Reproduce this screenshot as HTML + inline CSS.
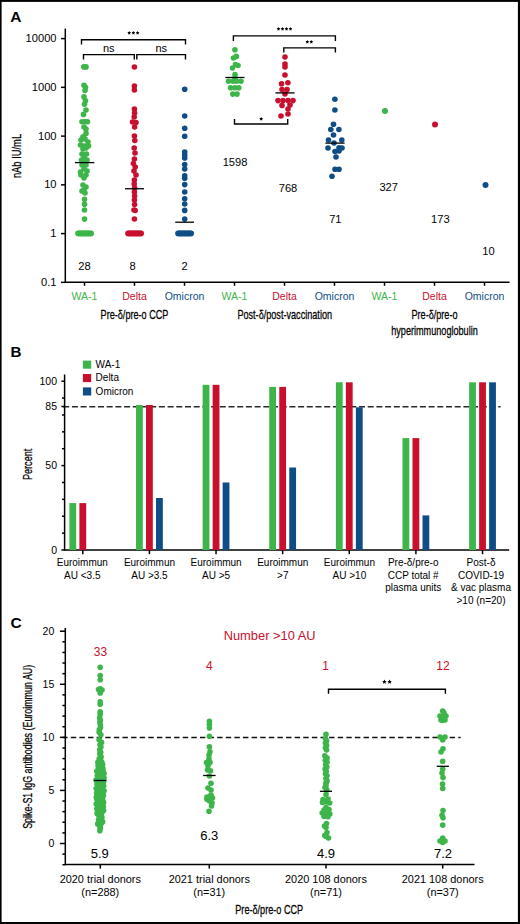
<!DOCTYPE html>
<html><head><meta charset="utf-8"><style>
html,body{margin:0;padding:0;background:#fff;width:520px;height:924px;overflow:hidden}
svg{display:block}
text{font-family:"Liberation Sans",sans-serif}
</style></head><body>
<svg width="520" height="924" viewBox="0 0 520 924">
<rect x="0" y="0" width="520" height="924" fill="#000"/><rect x="1.6" y="1.9" width="516.3" height="920.1" fill="#fff"/>
<line x1="63.2" y1="406.7" x2="500.6" y2="406.7" stroke="#2a2a2a" stroke-width="1.5" stroke-dasharray="6 2.7"/>
<line x1="62.2" y1="737.4" x2="460.6" y2="737.4" stroke="#111" stroke-width="1.5" stroke-dasharray="5.4 3.21"/>
<g fill="#3db54a"><circle cx="83.8" cy="66.9" r="2.8"/><circle cx="86.0" cy="66.9" r="2.8"/><circle cx="84.0" cy="85.2" r="2.8"/><circle cx="85.5" cy="87.6" r="2.8"/><circle cx="85.0" cy="90.5" r="2.8"/><circle cx="84.0" cy="96.9" r="2.8"/><circle cx="85.5" cy="100.8" r="2.8"/><circle cx="84.5" cy="104.2" r="2.8"/><circle cx="86.0" cy="110.0" r="2.8"/><circle cx="83.5" cy="114.4" r="2.8"/><circle cx="82.0" cy="121.7" r="2.8"/><circle cx="85.0" cy="121.7" r="2.8"/><circle cx="87.5" cy="121.7" r="2.8"/><circle cx="84.0" cy="127.0" r="2.8"/><circle cx="86.0" cy="129.0" r="2.8"/><circle cx="86.0" cy="133.4" r="2.8"/><circle cx="83.0" cy="136.8" r="2.8"/><circle cx="81.0" cy="140.0" r="2.8"/><circle cx="85.0" cy="139.0" r="2.8"/><circle cx="88.0" cy="142.0" r="2.8"/><circle cx="80.5" cy="145.0" r="2.8"/><circle cx="84.0" cy="146.0" r="2.8"/><circle cx="88.5" cy="146.0" r="2.8"/><circle cx="83.0" cy="149.0" r="2.8"/><circle cx="86.0" cy="148.0" r="2.8"/><circle cx="82.0" cy="154.0" r="2.8"/><circle cx="86.5" cy="154.0" r="2.8"/><circle cx="84.0" cy="157.0" r="2.8"/><circle cx="81.5" cy="160.0" r="2.8"/><circle cx="87.0" cy="160.0" r="2.8"/><circle cx="84.0" cy="163.0" r="2.8"/><circle cx="86.0" cy="165.0" r="2.8"/><circle cx="82.0" cy="165.0" r="2.8"/><circle cx="84.0" cy="169.0" r="2.8"/><circle cx="87.0" cy="171.0" r="2.8"/><circle cx="81.0" cy="175.0" r="2.8"/><circle cx="86.0" cy="175.0" r="2.8"/><circle cx="84.0" cy="178.0" r="2.8"/><circle cx="80.5" cy="172.0" r="2.8"/><circle cx="83.0" cy="185.0" r="2.8"/><circle cx="86.0" cy="187.0" r="2.8"/><circle cx="84.0" cy="190.0" r="2.8"/><circle cx="85.0" cy="193.0" r="2.8"/><circle cx="82.0" cy="191.0" r="2.8"/><circle cx="84.5" cy="199.2" r="2.8"/><circle cx="84.5" cy="204.3" r="2.8"/><circle cx="84.5" cy="210.0" r="2.8"/><circle cx="84.5" cy="219.1" r="2.8"/><circle cx="78.0" cy="233.4" r="2.8"/><circle cx="79.1" cy="233.4" r="2.8"/><circle cx="80.2" cy="233.4" r="2.8"/><circle cx="81.3" cy="233.4" r="2.8"/><circle cx="82.4" cy="233.4" r="2.8"/><circle cx="83.5" cy="233.4" r="2.8"/><circle cx="84.6" cy="233.4" r="2.8"/><circle cx="85.7" cy="233.4" r="2.8"/><circle cx="86.8" cy="233.4" r="2.8"/><circle cx="87.9" cy="233.4" r="2.8"/><circle cx="89.0" cy="233.4" r="2.8"/><circle cx="90.1" cy="233.4" r="2.8"/><circle cx="91.2" cy="233.4" r="2.8"/><circle cx="234.9" cy="49.8" r="2.8"/><circle cx="233.5" cy="58.0" r="2.8"/><circle cx="236.3" cy="56.4" r="2.8"/><circle cx="232.5" cy="68.0" r="2.8"/><circle cx="235.5" cy="64.5" r="2.8"/><circle cx="238.0" cy="65.5" r="2.8"/><circle cx="235.0" cy="74.6" r="2.8"/><circle cx="228.5" cy="81.2" r="2.8"/><circle cx="233.0" cy="81.2" r="2.8"/><circle cx="236.5" cy="81.2" r="2.8"/><circle cx="241.0" cy="81.2" r="2.8"/><circle cx="230.6" cy="87.8" r="2.8"/><circle cx="235.0" cy="87.8" r="2.8"/><circle cx="238.8" cy="87.8" r="2.8"/><circle cx="232.8" cy="94.1" r="2.8"/><circle cx="237.0" cy="94.1" r="2.8"/><circle cx="235.0" cy="78.0" r="2.8"/><circle cx="385.0" cy="111.1" r="3.0"/><circle cx="100.2" cy="667.3" r="2.8"/><circle cx="100.2" cy="675.6" r="2.8"/><circle cx="100.2" cy="679.8" r="2.8"/><circle cx="100.2" cy="688.7" r="2.8"/><circle cx="100.2" cy="692.9" r="2.8"/><circle cx="100.2" cy="701.8" r="2.8"/><circle cx="100.2" cy="704.2" r="2.8"/><circle cx="100.2" cy="711.9" r="2.8"/><circle cx="100.2" cy="714.3" r="2.8"/><circle cx="98.5" cy="689.5" r="2.8"/><circle cx="102.0" cy="690.0" r="2.8"/><circle cx="99.7" cy="717.9" r="2.8"/><circle cx="100.3" cy="720.3" r="2.8"/><circle cx="99.9" cy="722.7" r="2.8"/><circle cx="100.4" cy="725.1" r="2.8"/><circle cx="100.5" cy="727.5" r="2.8"/><circle cx="99.3" cy="729.9" r="2.8"/><circle cx="99.2" cy="732.3" r="2.8"/><circle cx="100.9" cy="734.7" r="2.8"/><circle cx="99.1" cy="739.8" r="2.8"/><circle cx="101.5" cy="742.4" r="2.8"/><circle cx="100.0" cy="744.8" r="2.8"/><circle cx="100.9" cy="746.9" r="2.8"/><circle cx="99.7" cy="749.9" r="2.8"/><circle cx="100.7" cy="752.2" r="2.8"/><circle cx="99.8" cy="754.1" r="2.8"/><circle cx="101.1" cy="756.9" r="2.8"/><circle cx="99.2" cy="758.8" r="2.8"/><circle cx="101.3" cy="761.6" r="2.8"/><circle cx="97.9" cy="762.3" r="2.8"/><circle cx="101.8" cy="762.3" r="2.8"/><circle cx="98.5" cy="764.4" r="2.8"/><circle cx="102.6" cy="764.5" r="2.8"/><circle cx="98.1" cy="766.1" r="2.8"/><circle cx="100.9" cy="766.2" r="2.8"/><circle cx="99.4" cy="768.5" r="2.8"/><circle cx="102.9" cy="768.4" r="2.8"/><circle cx="97.5" cy="770.7" r="2.8"/><circle cx="101.3" cy="770.9" r="2.8"/><circle cx="96.8" cy="771.3" r="2.8"/><circle cx="99.5" cy="771.1" r="2.8"/><circle cx="103.0" cy="771.3" r="2.8"/><circle cx="98.7" cy="773.3" r="2.8"/><circle cx="100.7" cy="772.9" r="2.8"/><circle cx="104.1" cy="773.6" r="2.8"/><circle cx="97.3" cy="775.5" r="2.8"/><circle cx="99.5" cy="775.6" r="2.8"/><circle cx="101.8" cy="775.7" r="2.8"/><circle cx="98.0" cy="777.4" r="2.8"/><circle cx="100.7" cy="777.3" r="2.8"/><circle cx="104.1" cy="778.0" r="2.8"/><circle cx="96.0" cy="780.0" r="2.8"/><circle cx="99.5" cy="779.7" r="2.8"/><circle cx="101.7" cy="779.6" r="2.8"/><circle cx="98.3" cy="782.3" r="2.8"/><circle cx="100.7" cy="781.6" r="2.8"/><circle cx="103.7" cy="781.6" r="2.8"/><circle cx="97.0" cy="784.1" r="2.8"/><circle cx="99.5" cy="784.5" r="2.8"/><circle cx="103.1" cy="784.2" r="2.8"/><circle cx="98.7" cy="786.2" r="2.8"/><circle cx="100.7" cy="786.1" r="2.8"/><circle cx="103.7" cy="786.0" r="2.8"/><circle cx="96.2" cy="788.5" r="2.8"/><circle cx="99.5" cy="788.7" r="2.8"/><circle cx="101.7" cy="788.2" r="2.8"/><circle cx="98.5" cy="790.7" r="2.8"/><circle cx="100.7" cy="791.2" r="2.8"/><circle cx="104.1" cy="790.7" r="2.8"/><circle cx="96.6" cy="793.0" r="2.8"/><circle cx="99.5" cy="793.1" r="2.8"/><circle cx="102.5" cy="793.0" r="2.8"/><circle cx="98.1" cy="795.6" r="2.8"/><circle cx="100.7" cy="795.2" r="2.8"/><circle cx="103.4" cy="795.4" r="2.8"/><circle cx="96.3" cy="797.2" r="2.8"/><circle cx="99.5" cy="797.8" r="2.8"/><circle cx="102.3" cy="797.4" r="2.8"/><circle cx="97.1" cy="799.5" r="2.8"/><circle cx="100.7" cy="799.7" r="2.8"/><circle cx="102.7" cy="799.7" r="2.8"/><circle cx="97.2" cy="799.6" r="2.8"/><circle cx="102.2" cy="800.0" r="2.8"/><circle cx="98.5" cy="802.1" r="2.8"/><circle cx="103.5" cy="802.4" r="2.8"/><circle cx="96.2" cy="804.0" r="2.8"/><circle cx="102.3" cy="804.8" r="2.8"/><circle cx="97.8" cy="806.6" r="2.8"/><circle cx="103.3" cy="806.5" r="2.8"/><circle cx="96.8" cy="808.7" r="2.8"/><circle cx="101.8" cy="808.9" r="2.8"/><circle cx="97.9" cy="810.9" r="2.8"/><circle cx="103.6" cy="810.6" r="2.8"/><circle cx="97.1" cy="813.4" r="2.8"/><circle cx="101.7" cy="813.0" r="2.8"/><circle cx="98.5" cy="814.8" r="2.8"/><circle cx="100.5" cy="815.0" r="2.8"/><circle cx="99.6" cy="817.0" r="2.8"/><circle cx="101.9" cy="817.2" r="2.8"/><circle cx="98.6" cy="819.6" r="2.8"/><circle cx="101.4" cy="819.4" r="2.8"/><circle cx="99.1" cy="822.0" r="2.8"/><circle cx="102.6" cy="821.9" r="2.8"/><circle cx="97.7" cy="823.9" r="2.8"/><circle cx="100.9" cy="824.0" r="2.8"/><circle cx="99.8" cy="826.2" r="2.8"/><circle cx="100.4" cy="828.2" r="2.8"/><circle cx="99.8" cy="830.7" r="2.8"/><circle cx="209.4" cy="721.3" r="2.8"/><circle cx="209.4" cy="724.3" r="2.8"/><circle cx="209.4" cy="727.9" r="2.8"/><circle cx="209.4" cy="736.2" r="2.8"/><circle cx="209.4" cy="746.9" r="2.8"/><circle cx="210.0" cy="751.7" r="2.8"/><circle cx="209.0" cy="758.8" r="2.8"/><circle cx="210.0" cy="762.4" r="2.8"/><circle cx="208.0" cy="766.0" r="2.8"/><circle cx="210.5" cy="770.7" r="2.8"/><circle cx="207.5" cy="770.0" r="2.8"/><circle cx="211.0" cy="783.2" r="2.8"/><circle cx="208.0" cy="788.0" r="2.8"/><circle cx="211.0" cy="795.1" r="2.8"/><circle cx="207.0" cy="799.3" r="2.8"/><circle cx="212.0" cy="802.9" r="2.8"/><circle cx="209.0" cy="811.2" r="2.8"/><circle cx="209.4" cy="776.0" r="2.8"/><circle cx="207.0" cy="797.0" r="2.8"/><circle cx="212.5" cy="798.0" r="2.8"/><circle cx="209.5" cy="801.0" r="2.8"/><circle cx="211.5" cy="806.0" r="2.8"/><circle cx="206.5" cy="762.5" r="2.8"/><circle cx="209.0" cy="755.0" r="2.8"/><circle cx="211.0" cy="790.0" r="2.8"/><circle cx="326.0" cy="734.2" r="2.8"/><circle cx="325.4" cy="738.5" r="2.8"/><circle cx="326.6" cy="740.8" r="2.8"/><circle cx="325.4" cy="743.1" r="2.8"/><circle cx="326.6" cy="745.4" r="2.8"/><circle cx="325.4" cy="747.7" r="2.8"/><circle cx="326.6" cy="750.0" r="2.8"/><circle cx="324.8" cy="755.7" r="2.8"/><circle cx="327.1" cy="758.0" r="2.8"/><circle cx="325.3" cy="760.3" r="2.8"/><circle cx="327.1" cy="762.1" r="2.8"/><circle cx="325.7" cy="764.8" r="2.8"/><circle cx="326.8" cy="766.9" r="2.8"/><circle cx="325.1" cy="769.1" r="2.8"/><circle cx="326.3" cy="771.2" r="2.8"/><circle cx="325.5" cy="773.7" r="2.8"/><circle cx="327.0" cy="775.8" r="2.8"/><circle cx="325.9" cy="778.5" r="2.8"/><circle cx="327.1" cy="780.9" r="2.8"/><circle cx="325.9" cy="783.0" r="2.8"/><circle cx="326.0" cy="785.4" r="2.8"/><circle cx="325.0" cy="787.5" r="2.8"/><circle cx="326.8" cy="789.9" r="2.8"/><circle cx="326.0" cy="794.5" r="2.8"/><circle cx="323.0" cy="799.5" r="2.8"/><circle cx="328.0" cy="799.0" r="2.8"/><circle cx="322.5" cy="802.5" r="2.8"/><circle cx="329.7" cy="803.0" r="2.8"/><circle cx="326.0" cy="802.0" r="2.8"/><circle cx="324.0" cy="810.0" r="2.8"/><circle cx="329.0" cy="809.5" r="2.8"/><circle cx="322.2" cy="813.0" r="2.8"/><circle cx="329.8" cy="814.0" r="2.8"/><circle cx="326.0" cy="813.5" r="2.8"/><circle cx="324.0" cy="816.5" r="2.8"/><circle cx="328.0" cy="816.8" r="2.8"/><circle cx="326.0" cy="807.5" r="2.8"/><circle cx="326.5" cy="823.5" r="2.8"/><circle cx="324.5" cy="826.0" r="2.8"/><circle cx="326.0" cy="827.5" r="2.8"/><circle cx="327.0" cy="832.5" r="2.8"/><circle cx="324.8" cy="835.5" r="2.8"/><circle cx="328.5" cy="838.0" r="2.8"/><circle cx="326.0" cy="836.5" r="2.8"/><circle cx="442.7" cy="711.0" r="2.8"/><circle cx="440.0" cy="716.0" r="2.8"/><circle cx="446.0" cy="716.0" r="2.8"/><circle cx="441.0" cy="720.0" r="2.8"/><circle cx="445.0" cy="720.0" r="2.8"/><circle cx="440.0" cy="737.0" r="2.8"/><circle cx="445.0" cy="737.0" r="2.8"/><circle cx="442.7" cy="740.0" r="2.8"/><circle cx="443.0" cy="748.7" r="2.8"/><circle cx="441.0" cy="752.0" r="2.8"/><circle cx="442.7" cy="761.4" r="2.8"/><circle cx="442.7" cy="769.0" r="2.8"/><circle cx="442.0" cy="773.1" r="2.8"/><circle cx="443.0" cy="777.6" r="2.8"/><circle cx="442.5" cy="784.1" r="2.8"/><circle cx="442.7" cy="788.5" r="2.8"/><circle cx="443.0" cy="810.5" r="2.8"/><circle cx="442.0" cy="815.3" r="2.8"/><circle cx="443.0" cy="817.8" r="2.8"/><circle cx="442.7" cy="825.1" r="2.8"/><circle cx="440.0" cy="841.0" r="2.8"/><circle cx="445.0" cy="841.0" r="2.8"/><circle cx="442.7" cy="838.0" r="2.8"/><circle cx="442.7" cy="716.5" r="2.8"/><circle cx="442.7" cy="720.5" r="2.8"/><circle cx="442.7" cy="842.5" r="2.8"/><circle cx="444.0" cy="713.0" r="2.8"/></g><g fill="#c8102e"><circle cx="134.4" cy="67.0" r="2.8"/><circle cx="134.4" cy="86.0" r="2.8"/><circle cx="134.4" cy="90.0" r="2.8"/><circle cx="134.4" cy="109.0" r="2.8"/><circle cx="134.6" cy="113.0" r="2.8"/><circle cx="134.2" cy="117.0" r="2.8"/><circle cx="132.5" cy="122.0" r="2.8"/><circle cx="136.0" cy="122.5" r="2.8"/><circle cx="134.6" cy="127.0" r="2.8"/><circle cx="134.4" cy="136.0" r="2.8"/><circle cx="134.8" cy="140.5" r="2.8"/><circle cx="134.2" cy="148.0" r="2.8"/><circle cx="135.0" cy="153.0" r="2.8"/><circle cx="134.4" cy="159.0" r="2.8"/><circle cx="133.4" cy="163.5" r="2.8"/><circle cx="135.2" cy="167.0" r="2.8"/><circle cx="134.0" cy="171.0" r="2.8"/><circle cx="136.0" cy="175.0" r="2.8"/><circle cx="134.4" cy="180.0" r="2.8"/><circle cx="134.2" cy="184.0" r="2.8"/><circle cx="134.6" cy="188.0" r="2.8"/><circle cx="134.4" cy="192.0" r="2.8"/><circle cx="134.6" cy="196.0" r="2.8"/><circle cx="134.4" cy="200.0" r="2.8"/><circle cx="134.6" cy="204.5" r="2.8"/><circle cx="134.0" cy="210.0" r="2.8"/><circle cx="135.2" cy="210.5" r="2.8"/><circle cx="134.4" cy="219.0" r="2.8"/><circle cx="128.0" cy="233.4" r="2.8"/><circle cx="129.1" cy="233.4" r="2.8"/><circle cx="130.2" cy="233.4" r="2.8"/><circle cx="131.3" cy="233.4" r="2.8"/><circle cx="132.4" cy="233.4" r="2.8"/><circle cx="133.5" cy="233.4" r="2.8"/><circle cx="134.6" cy="233.4" r="2.8"/><circle cx="135.7" cy="233.4" r="2.8"/><circle cx="136.8" cy="233.4" r="2.8"/><circle cx="137.9" cy="233.4" r="2.8"/><circle cx="139.0" cy="233.4" r="2.8"/><circle cx="140.1" cy="233.4" r="2.8"/><circle cx="141.2" cy="233.4" r="2.8"/><circle cx="285.0" cy="57.0" r="2.8"/><circle cx="285.0" cy="64.0" r="2.8"/><circle cx="285.0" cy="67.0" r="2.8"/><circle cx="285.0" cy="75.0" r="2.8"/><circle cx="281.5" cy="83.8" r="2.8"/><circle cx="287.9" cy="82.7" r="2.8"/><circle cx="282.0" cy="89.6" r="2.8"/><circle cx="287.0" cy="89.6" r="2.8"/><circle cx="278.0" cy="100.6" r="2.8"/><circle cx="283.0" cy="100.6" r="2.8"/><circle cx="288.0" cy="100.6" r="2.8"/><circle cx="293.0" cy="100.6" r="2.8"/><circle cx="282.0" cy="105.4" r="2.8"/><circle cx="290.0" cy="105.0" r="2.8"/><circle cx="288.0" cy="109.0" r="2.8"/><circle cx="281.0" cy="116.0" r="2.8"/><circle cx="288.0" cy="114.0" r="2.8"/><circle cx="285.0" cy="94.0" r="2.8"/><circle cx="435.0" cy="124.4" r="3.0"/></g><g fill="#0f4d87"><circle cx="184.7" cy="89.3" r="2.8"/><circle cx="184.7" cy="116.0" r="2.8"/><circle cx="184.7" cy="128.2" r="2.8"/><circle cx="184.7" cy="136.3" r="2.8"/><circle cx="184.7" cy="152.0" r="2.8"/><circle cx="184.7" cy="155.0" r="2.8"/><circle cx="184.7" cy="157.9" r="2.8"/><circle cx="184.7" cy="164.6" r="2.8"/><circle cx="184.7" cy="169.0" r="2.8"/><circle cx="184.7" cy="175.8" r="2.8"/><circle cx="184.7" cy="178.2" r="2.8"/><circle cx="184.7" cy="184.6" r="2.8"/><circle cx="184.7" cy="192.0" r="2.8"/><circle cx="184.7" cy="198.7" r="2.8"/><circle cx="184.7" cy="204.0" r="2.8"/><circle cx="184.7" cy="210.4" r="2.8"/><circle cx="184.7" cy="219.1" r="2.8"/><circle cx="178.0" cy="233.4" r="2.8"/><circle cx="179.1" cy="233.4" r="2.8"/><circle cx="180.2" cy="233.4" r="2.8"/><circle cx="181.3" cy="233.4" r="2.8"/><circle cx="182.4" cy="233.4" r="2.8"/><circle cx="183.5" cy="233.4" r="2.8"/><circle cx="184.6" cy="233.4" r="2.8"/><circle cx="185.7" cy="233.4" r="2.8"/><circle cx="186.8" cy="233.4" r="2.8"/><circle cx="187.9" cy="233.4" r="2.8"/><circle cx="189.0" cy="233.4" r="2.8"/><circle cx="190.1" cy="233.4" r="2.8"/><circle cx="191.2" cy="233.4" r="2.8"/><circle cx="334.9" cy="99.2" r="2.8"/><circle cx="334.9" cy="110.0" r="2.8"/><circle cx="333.5" cy="124.3" r="2.8"/><circle cx="330.8" cy="129.5" r="2.8"/><circle cx="338.9" cy="129.5" r="2.8"/><circle cx="333.5" cy="135.0" r="2.8"/><circle cx="328.5" cy="140.0" r="2.8"/><circle cx="341.8" cy="140.0" r="2.8"/><circle cx="328.0" cy="148.0" r="2.8"/><circle cx="339.0" cy="147.7" r="2.8"/><circle cx="342.0" cy="148.0" r="2.8"/><circle cx="335.0" cy="151.5" r="2.8"/><circle cx="339.0" cy="151.0" r="2.8"/><circle cx="336.0" cy="157.0" r="2.8"/><circle cx="335.0" cy="169.2" r="2.8"/><circle cx="339.0" cy="169.2" r="2.8"/><circle cx="332.0" cy="176.2" r="2.8"/><circle cx="334.0" cy="143.0" r="2.8"/><circle cx="485.5" cy="185.1" r="3.0"/></g>
<text transform="translate(10.20,21.50)" font-size="15.5" text-anchor="start" fill="#000" font-weight="bold">A</text><line x1="65.30" y1="28.60" x2="65.30" y2="282.40" stroke="#000" stroke-width="1.5" /><line x1="64.55" y1="282.30" x2="509.60" y2="282.30" stroke="#000" stroke-width="1.5" /><line x1="61.00" y1="38.60" x2="65.30" y2="38.60" stroke="#000" stroke-width="1.5" /><text transform="translate(56.50,42.20) scale(1.06,1)" font-size="10.5" text-anchor="end" fill="#000" font-weight="normal">10000</text><line x1="61.00" y1="87.35" x2="65.30" y2="87.35" stroke="#000" stroke-width="1.5" /><text transform="translate(56.50,90.95) scale(1.06,1)" font-size="10.5" text-anchor="end" fill="#000" font-weight="normal">1000</text><line x1="61.00" y1="136.10" x2="65.30" y2="136.10" stroke="#000" stroke-width="1.5" /><text transform="translate(56.50,139.70) scale(1.06,1)" font-size="10.5" text-anchor="end" fill="#000" font-weight="normal">100</text><line x1="61.00" y1="184.85" x2="65.30" y2="184.85" stroke="#000" stroke-width="1.5" /><text transform="translate(56.50,188.45) scale(1.06,1)" font-size="10.5" text-anchor="end" fill="#000" font-weight="normal">10</text><line x1="61.00" y1="233.60" x2="65.30" y2="233.60" stroke="#000" stroke-width="1.5" /><text transform="translate(56.50,237.20) scale(1.06,1)" font-size="10.5" text-anchor="end" fill="#000" font-weight="normal">1</text><line x1="61.00" y1="282.35" x2="65.30" y2="282.35" stroke="#000" stroke-width="1.5" /><text transform="translate(56.50,285.95) scale(1.06,1)" font-size="10.5" text-anchor="end" fill="#000" font-weight="normal">0.1</text><text transform="translate(20.80,156.00) rotate(-90) scale(0.75,1)" font-size="12.5" text-anchor="middle" fill="#000" font-weight="normal" stroke="#000" stroke-width="0.25">nAb IU/mL</text><line x1="84.50" y1="282.30" x2="84.50" y2="285.80" stroke="#000" stroke-width="1.5" /><text transform="translate(84.50,299.50)" font-size="10.5" text-anchor="middle" fill="#3db54a" font-weight="normal">WA-1</text><line x1="134.50" y1="282.30" x2="134.50" y2="285.80" stroke="#000" stroke-width="1.5" /><text transform="translate(134.50,299.50)" font-size="10.5" text-anchor="middle" fill="#c8102e" font-weight="normal">Delta</text><line x1="184.50" y1="282.30" x2="184.50" y2="285.80" stroke="#000" stroke-width="1.5" /><text transform="translate(184.50,299.50)" font-size="10.5" text-anchor="middle" fill="#0f4d87" font-weight="normal">Omicron</text><line x1="234.50" y1="282.30" x2="234.50" y2="285.80" stroke="#000" stroke-width="1.5" /><text transform="translate(234.50,299.50)" font-size="10.5" text-anchor="middle" fill="#3db54a" font-weight="normal">WA-1</text><line x1="284.50" y1="282.30" x2="284.50" y2="285.80" stroke="#000" stroke-width="1.5" /><text transform="translate(284.50,299.50)" font-size="10.5" text-anchor="middle" fill="#c8102e" font-weight="normal">Delta</text><line x1="334.50" y1="282.30" x2="334.50" y2="285.80" stroke="#000" stroke-width="1.5" /><text transform="translate(334.50,299.50)" font-size="10.5" text-anchor="middle" fill="#0f4d87" font-weight="normal">Omicron</text><line x1="384.50" y1="282.30" x2="384.50" y2="285.80" stroke="#000" stroke-width="1.5" /><text transform="translate(384.50,299.50)" font-size="10.5" text-anchor="middle" fill="#3db54a" font-weight="normal">WA-1</text><line x1="434.50" y1="282.30" x2="434.50" y2="285.80" stroke="#000" stroke-width="1.5" /><text transform="translate(434.50,299.50)" font-size="10.5" text-anchor="middle" fill="#c8102e" font-weight="normal">Delta</text><line x1="484.50" y1="282.30" x2="484.50" y2="285.80" stroke="#000" stroke-width="1.5" /><text transform="translate(484.50,299.50)" font-size="10.5" text-anchor="middle" fill="#0f4d87" font-weight="normal">Omicron</text><text transform="translate(134.50,318.60) scale(0.76,1)" font-size="12" text-anchor="middle" fill="#000" font-weight="normal" stroke="#000" stroke-width="0.25">Pre-δ/pre-o CCP</text><text transform="translate(284.70,318.60) scale(0.76,1)" font-size="12" text-anchor="middle" fill="#000" font-weight="normal" stroke="#000" stroke-width="0.25">Post-δ/post-vaccination</text><text transform="translate(434.50,318.60) scale(0.76,1)" font-size="12" text-anchor="middle" fill="#000" font-weight="normal" stroke="#000" stroke-width="0.25">Pre-δ/pre-o</text><text transform="translate(434.50,334.70) scale(0.76,1)" font-size="12" text-anchor="middle" fill="#000" font-weight="normal" stroke="#000" stroke-width="0.25">hyperimmunoglobulin</text><path d="M81.50,44.60 V39.70 H185.50 V44.60" fill="none" stroke="#000" stroke-width="1.4"/><polygon points="129.20,31.00 129.78,32.10 131.01,32.31 130.14,33.21 130.32,34.44 129.20,33.89 128.08,34.44 128.26,33.21 127.39,32.31 128.62,32.10" fill="#000"/><polygon points="133.40,31.00 133.98,32.10 135.21,32.31 134.34,33.21 134.52,34.44 133.40,33.89 132.28,34.44 132.46,33.21 131.59,32.31 132.82,32.10" fill="#000"/><polygon points="137.60,31.00 138.18,32.10 139.41,32.31 138.54,33.21 138.72,34.44 137.60,33.89 136.48,34.44 136.66,33.21 135.79,32.31 137.02,32.10" fill="#000"/><path d="M83.50,59.50 V54.60 H134.30 V59.50" fill="none" stroke="#000" stroke-width="1.4"/><path d="M136.80,59.50 V54.60 H185.50 V59.50" fill="none" stroke="#000" stroke-width="1.4"/><text transform="translate(108.70,51.80)" font-size="11" text-anchor="middle" fill="#000" font-weight="normal">ns</text><text transform="translate(161.20,51.80)" font-size="11" text-anchor="middle" fill="#000" font-weight="normal">ns</text><path d="M233.40,41.10 V35.90 H335.40 V41.10" fill="none" stroke="#000" stroke-width="1.4"/><polygon points="278.50,27.00 279.08,28.10 280.31,28.31 279.44,29.21 279.62,30.44 278.50,29.89 277.38,30.44 277.56,29.21 276.69,28.31 277.92,28.10" fill="#000"/><polygon points="282.50,27.00 283.08,28.10 284.31,28.31 283.44,29.21 283.62,30.44 282.50,29.89 281.38,30.44 281.56,29.21 280.69,28.31 281.92,28.10" fill="#000"/><polygon points="286.50,27.00 287.08,28.10 288.31,28.31 287.44,29.21 287.62,30.44 286.50,29.89 285.38,30.44 285.56,29.21 284.69,28.31 285.92,28.10" fill="#000"/><polygon points="290.50,27.00 291.08,28.10 292.31,28.31 291.44,29.21 291.62,30.44 290.50,29.89 289.38,30.44 289.56,29.21 288.69,28.31 289.92,28.10" fill="#000"/><path d="M283.80,52.50 V47.90 H335.40 V52.50" fill="none" stroke="#000" stroke-width="1.4"/><polygon points="307.30,40.00 307.88,41.10 309.11,41.31 308.24,42.21 308.42,43.44 307.30,42.89 306.18,43.44 306.36,42.21 305.49,41.31 306.72,41.10" fill="#000"/><polygon points="311.30,40.00 311.88,41.10 313.11,41.31 312.24,42.21 312.42,43.44 311.30,42.89 310.18,43.44 310.36,42.21 309.49,41.31 310.72,41.10" fill="#000"/><path d="M234.50,119.00 V124.00 H287.70 V119.00" fill="none" stroke="#000" stroke-width="1.4"/><polygon points="261.15,116.90 261.76,118.06 263.05,118.28 262.14,119.22 262.33,120.52 261.15,119.94 259.97,120.52 260.16,119.22 259.25,118.28 260.54,118.06" fill="#000"/><text transform="translate(84.50,270.20) scale(1.06,1)" font-size="10.5" text-anchor="middle" fill="#000" font-weight="normal">28</text><text transform="translate(132.60,270.20) scale(1.06,1)" font-size="10.5" text-anchor="middle" fill="#000" font-weight="normal">8</text><text transform="translate(184.50,270.20) scale(1.06,1)" font-size="10.5" text-anchor="middle" fill="#000" font-weight="normal">2</text><text transform="translate(235.00,166.10) scale(1.06,1)" font-size="10.5" text-anchor="middle" fill="#000" font-weight="normal">1598</text><text transform="translate(288.00,191.70) scale(1.06,1)" font-size="10.5" text-anchor="middle" fill="#000" font-weight="normal">768</text><text transform="translate(335.30,223.10) scale(1.06,1)" font-size="10.5" text-anchor="middle" fill="#000" font-weight="normal">71</text><text transform="translate(388.70,191.30) scale(1.06,1)" font-size="10.5" text-anchor="middle" fill="#000" font-weight="normal">327</text><text transform="translate(440.30,223.10) scale(1.06,1)" font-size="10.5" text-anchor="middle" fill="#000" font-weight="normal">173</text><text transform="translate(488.40,255.30) scale(1.06,1)" font-size="10.5" text-anchor="middle" fill="#000" font-weight="normal">10</text><line x1="75.00" y1="162.60" x2="94.30" y2="162.60" stroke="#000" stroke-width="1.3" /><line x1="125.00" y1="188.75" x2="144.00" y2="188.75" stroke="#000" stroke-width="1.3" /><line x1="175.20" y1="222.20" x2="194.00" y2="222.20" stroke="#000" stroke-width="1.3" /><line x1="225.30" y1="77.50" x2="244.50" y2="77.50" stroke="#000" stroke-width="1.3" /><line x1="275.40" y1="92.90" x2="294.60" y2="92.90" stroke="#000" stroke-width="1.3" /><line x1="325.40" y1="143.10" x2="344.60" y2="143.10" stroke="#000" stroke-width="1.3" /><text transform="translate(10.40,357.00)" font-size="15.2" text-anchor="start" fill="#000" font-weight="bold">B</text><line x1="64.60" y1="374.50" x2="64.60" y2="550.60" stroke="#000" stroke-width="1.5" /><line x1="63.85" y1="550.00" x2="509.20" y2="550.00" stroke="#000" stroke-width="1.5" /><line x1="61.40" y1="550.00" x2="64.60" y2="550.00" stroke="#000" stroke-width="1.5" /><line x1="62.00" y1="533.12" x2="64.60" y2="533.12" stroke="#000" stroke-width="1.5" /><line x1="62.00" y1="516.24" x2="64.60" y2="516.24" stroke="#000" stroke-width="1.5" /><line x1="62.00" y1="499.36" x2="64.60" y2="499.36" stroke="#000" stroke-width="1.5" /><line x1="62.00" y1="482.48" x2="64.60" y2="482.48" stroke="#000" stroke-width="1.5" /><line x1="61.40" y1="465.60" x2="64.60" y2="465.60" stroke="#000" stroke-width="1.5" /><line x1="62.00" y1="448.72" x2="64.60" y2="448.72" stroke="#000" stroke-width="1.5" /><line x1="62.00" y1="431.84" x2="64.60" y2="431.84" stroke="#000" stroke-width="1.5" /><line x1="62.00" y1="414.96" x2="64.60" y2="414.96" stroke="#000" stroke-width="1.5" /><line x1="62.00" y1="398.08" x2="64.60" y2="398.08" stroke="#000" stroke-width="1.5" /><line x1="61.40" y1="381.20" x2="64.60" y2="381.20" stroke="#000" stroke-width="1.5" /><line x1="61.40" y1="406.52" x2="64.60" y2="406.52" stroke="#000" stroke-width="1.5" /><text transform="translate(57.00,553.60)" font-size="10.5" text-anchor="end" fill="#000" font-weight="normal">0</text><text transform="translate(57.00,469.20)" font-size="10.5" text-anchor="end" fill="#000" font-weight="normal">50</text><text transform="translate(57.00,410.12)" font-size="10.5" text-anchor="end" fill="#000" font-weight="normal">85</text><text transform="translate(57.00,384.80)" font-size="10.5" text-anchor="end" fill="#000" font-weight="normal">100</text><text transform="translate(32.30,464.40) rotate(-90) scale(0.76,1)" font-size="12" text-anchor="middle" fill="#000" font-weight="normal" stroke="#000" stroke-width="0.25">Percent</text><rect x="82.9" y="360.60" width="8.3" height="8.1" fill="#3db54a"/><text transform="translate(95.60,367.90)" font-size="10" text-anchor="start" fill="#000" font-weight="normal">WA-1</text><rect x="82.9" y="374.00" width="8.3" height="8.1" fill="#c8102e"/><text transform="translate(95.60,381.30)" font-size="10" text-anchor="start" fill="#000" font-weight="normal">Delta</text><rect x="82.9" y="387.40" width="8.3" height="8.1" fill="#0f4d87"/><text transform="translate(95.60,394.70)" font-size="10" text-anchor="start" fill="#000" font-weight="normal">Omicron</text><rect x="69.40" y="503.10" width="6.8" height="46.90" fill="#3db54a"/><rect x="79.40" y="503.10" width="6.8" height="46.90" fill="#c8102e"/><line x1="82.80" y1="550.00" x2="82.80" y2="554.20" stroke="#000" stroke-width="1.5" /><rect x="136.02" y="405.00" width="6.8" height="145.00" fill="#3db54a"/><rect x="146.02" y="405.00" width="6.8" height="145.00" fill="#c8102e"/><rect x="156.02" y="498.00" width="6.8" height="52.00" fill="#0f4d87"/><line x1="149.42" y1="550.00" x2="149.42" y2="554.20" stroke="#000" stroke-width="1.5" /><rect x="202.64" y="384.80" width="6.8" height="165.20" fill="#3db54a"/><rect x="212.64" y="384.80" width="6.8" height="165.20" fill="#c8102e"/><rect x="222.64" y="482.50" width="6.8" height="67.50" fill="#0f4d87"/><line x1="216.04" y1="550.00" x2="216.04" y2="554.20" stroke="#000" stroke-width="1.5" /><rect x="269.26" y="386.90" width="6.8" height="163.10" fill="#3db54a"/><rect x="279.26" y="386.90" width="6.8" height="163.10" fill="#c8102e"/><rect x="289.26" y="467.50" width="6.8" height="82.50" fill="#0f4d87"/><line x1="282.66" y1="550.00" x2="282.66" y2="554.20" stroke="#000" stroke-width="1.5" /><rect x="335.88" y="382.30" width="6.8" height="167.70" fill="#3db54a"/><rect x="345.88" y="382.30" width="6.8" height="167.70" fill="#c8102e"/><rect x="355.88" y="407.30" width="6.8" height="142.70" fill="#0f4d87"/><line x1="349.28" y1="550.00" x2="349.28" y2="554.20" stroke="#000" stroke-width="1.5" /><rect x="402.50" y="438.10" width="6.8" height="111.90" fill="#3db54a"/><rect x="412.50" y="438.10" width="6.8" height="111.90" fill="#c8102e"/><rect x="422.50" y="515.40" width="6.8" height="34.60" fill="#0f4d87"/><line x1="415.90" y1="550.00" x2="415.90" y2="554.20" stroke="#000" stroke-width="1.5" /><rect x="469.12" y="382.30" width="6.8" height="167.70" fill="#3db54a"/><rect x="479.12" y="382.30" width="6.8" height="167.70" fill="#c8102e"/><rect x="489.12" y="382.30" width="6.8" height="167.70" fill="#0f4d87"/><line x1="482.52" y1="550.00" x2="482.52" y2="554.20" stroke="#000" stroke-width="1.5" /><text transform="translate(82.30,565.80)" font-size="10" text-anchor="middle" fill="#000" font-weight="normal">Euroimmun</text><text transform="translate(82.30,578.50)" font-size="10" text-anchor="middle" fill="#000" font-weight="normal">AU &lt;3.5</text><text transform="translate(149.45,565.80)" font-size="10" text-anchor="middle" fill="#000" font-weight="normal">Euroimmun</text><text transform="translate(149.45,578.50)" font-size="10" text-anchor="middle" fill="#000" font-weight="normal">AU &gt;3.5</text><text transform="translate(216.10,565.80)" font-size="10" text-anchor="middle" fill="#000" font-weight="normal">Euroimmun</text><text transform="translate(216.10,578.50)" font-size="10" text-anchor="middle" fill="#000" font-weight="normal">AU &gt;5</text><text transform="translate(282.75,565.80)" font-size="10" text-anchor="middle" fill="#000" font-weight="normal">Euroimmun</text><text transform="translate(282.75,578.50)" font-size="10" text-anchor="middle" fill="#000" font-weight="normal">&gt;7</text><text transform="translate(349.40,565.80)" font-size="10" text-anchor="middle" fill="#000" font-weight="normal">Euroimmun</text><text transform="translate(349.40,578.50)" font-size="10" text-anchor="middle" fill="#000" font-weight="normal">AU &gt;10</text><text transform="translate(413.20,565.80)" font-size="10" text-anchor="middle" fill="#000" font-weight="normal">Pre-δ/pre-o</text><text transform="translate(413.20,578.50)" font-size="10" text-anchor="middle" fill="#000" font-weight="normal">CCP total #</text><text transform="translate(413.20,591.20)" font-size="10" text-anchor="middle" fill="#000" font-weight="normal">plasma units</text><text transform="translate(481.00,565.80)" font-size="10" text-anchor="middle" fill="#000" font-weight="normal">Post-δ</text><text transform="translate(481.00,578.50)" font-size="10" text-anchor="middle" fill="#000" font-weight="normal">COVID-19</text><text transform="translate(481.00,591.20)" font-size="10" text-anchor="middle" fill="#000" font-weight="normal">&amp; vac plasma</text><text transform="translate(481.00,603.90)" font-size="10" text-anchor="middle" fill="#000" font-weight="normal">&gt;10 (n=20)</text><text transform="translate(10.40,627.60)" font-size="15.5" text-anchor="start" fill="#000" font-weight="bold">C</text><line x1="65.30" y1="628.00" x2="65.30" y2="865.00" stroke="#000" stroke-width="1.5" /><line x1="64.55" y1="864.60" x2="474.50" y2="864.60" stroke="#000" stroke-width="1.5" /><line x1="62.40" y1="864.73" x2="65.30" y2="864.73" stroke="#000" stroke-width="1.5" /><line x1="62.40" y1="854.12" x2="65.30" y2="854.12" stroke="#000" stroke-width="1.5" /><line x1="59.90" y1="843.50" x2="65.30" y2="843.50" stroke="#000" stroke-width="1.5" /><text transform="translate(54.30,847.10)" font-size="10.5" text-anchor="end" fill="#000" font-weight="normal">0</text><line x1="62.40" y1="832.88" x2="65.30" y2="832.88" stroke="#000" stroke-width="1.5" /><line x1="62.40" y1="822.27" x2="65.30" y2="822.27" stroke="#000" stroke-width="1.5" /><line x1="62.40" y1="811.65" x2="65.30" y2="811.65" stroke="#000" stroke-width="1.5" /><line x1="62.40" y1="801.04" x2="65.30" y2="801.04" stroke="#000" stroke-width="1.5" /><line x1="59.90" y1="790.42" x2="65.30" y2="790.42" stroke="#000" stroke-width="1.5" /><text transform="translate(54.30,794.02)" font-size="10.5" text-anchor="end" fill="#000" font-weight="normal">5</text><line x1="62.40" y1="779.81" x2="65.30" y2="779.81" stroke="#000" stroke-width="1.5" /><line x1="62.40" y1="769.19" x2="65.30" y2="769.19" stroke="#000" stroke-width="1.5" /><line x1="62.40" y1="758.58" x2="65.30" y2="758.58" stroke="#000" stroke-width="1.5" /><line x1="62.40" y1="747.97" x2="65.30" y2="747.97" stroke="#000" stroke-width="1.5" /><line x1="59.90" y1="737.35" x2="65.30" y2="737.35" stroke="#000" stroke-width="1.5" /><text transform="translate(54.30,740.95)" font-size="10.5" text-anchor="end" fill="#000" font-weight="normal">10</text><line x1="62.40" y1="726.74" x2="65.30" y2="726.74" stroke="#000" stroke-width="1.5" /><line x1="62.40" y1="716.12" x2="65.30" y2="716.12" stroke="#000" stroke-width="1.5" /><line x1="62.40" y1="705.50" x2="65.30" y2="705.50" stroke="#000" stroke-width="1.5" /><line x1="62.40" y1="694.89" x2="65.30" y2="694.89" stroke="#000" stroke-width="1.5" /><line x1="59.90" y1="684.27" x2="65.30" y2="684.27" stroke="#000" stroke-width="1.5" /><text transform="translate(54.30,687.88)" font-size="10.5" text-anchor="end" fill="#000" font-weight="normal">15</text><line x1="62.40" y1="673.66" x2="65.30" y2="673.66" stroke="#000" stroke-width="1.5" /><line x1="62.40" y1="663.04" x2="65.30" y2="663.04" stroke="#000" stroke-width="1.5" /><line x1="62.40" y1="652.43" x2="65.30" y2="652.43" stroke="#000" stroke-width="1.5" /><line x1="62.40" y1="641.82" x2="65.30" y2="641.82" stroke="#000" stroke-width="1.5" /><line x1="59.90" y1="631.20" x2="65.30" y2="631.20" stroke="#000" stroke-width="1.5" /><text transform="translate(54.30,634.80)" font-size="10.5" text-anchor="end" fill="#000" font-weight="normal">20</text><text transform="translate(32.20,746.80) rotate(-90) scale(0.742,1)" font-size="12" text-anchor="middle" fill="#000" font-weight="normal" stroke="#000" stroke-width="0.25">Spike-S1 IgG antibodies (Euroimmun AU)</text><line x1="100.30" y1="864.60" x2="100.30" y2="868.60" stroke="#000" stroke-width="1.5" /><line x1="209.30" y1="864.60" x2="209.30" y2="868.60" stroke="#000" stroke-width="1.5" /><line x1="326.00" y1="864.60" x2="326.00" y2="868.60" stroke="#000" stroke-width="1.5" /><line x1="442.70" y1="864.60" x2="442.70" y2="868.60" stroke="#000" stroke-width="1.5" /><text transform="translate(269.60,640.20) scale(1.03,1)" font-size="12.5" text-anchor="middle" fill="#c8102e" font-weight="normal">Number &gt;10 AU</text><text transform="translate(100.40,655.50)" font-size="12" text-anchor="middle" fill="#c8102e" font-weight="normal">33</text><text transform="translate(209.30,669.80)" font-size="12" text-anchor="middle" fill="#c8102e" font-weight="normal">4</text><text transform="translate(325.70,669.80)" font-size="12" text-anchor="middle" fill="#c8102e" font-weight="normal">1</text><text transform="translate(443.00,670.00)" font-size="12" text-anchor="middle" fill="#c8102e" font-weight="normal">12</text><text transform="translate(99.80,857.70) scale(1.04,1)" font-size="12.5" text-anchor="middle" fill="#000" font-weight="normal">5.9</text><text transform="translate(209.30,840.00) scale(1.04,1)" font-size="12.5" text-anchor="middle" fill="#000" font-weight="normal">6.3</text><text transform="translate(326.00,857.70) scale(1.04,1)" font-size="12.5" text-anchor="middle" fill="#000" font-weight="normal">4.9</text><text transform="translate(443.00,857.50) scale(1.04,1)" font-size="12.5" text-anchor="middle" fill="#000" font-weight="normal">7.2</text><text transform="translate(100.30,883.30) scale(1.04,1)" font-size="10.5" text-anchor="middle" fill="#000" font-weight="normal">2020 trial donors</text><text transform="translate(100.30,895.60) scale(1.04,1)" font-size="10.5" text-anchor="middle" fill="#000" font-weight="normal">(n=288)</text><text transform="translate(209.30,883.30) scale(1.04,1)" font-size="10.5" text-anchor="middle" fill="#000" font-weight="normal">2021 trial donors</text><text transform="translate(209.30,895.60) scale(1.04,1)" font-size="10.5" text-anchor="middle" fill="#000" font-weight="normal">(n=31)</text><text transform="translate(326.00,883.30) scale(1.04,1)" font-size="10.5" text-anchor="middle" fill="#000" font-weight="normal">2020 108 donors</text><text transform="translate(326.00,895.60) scale(1.04,1)" font-size="10.5" text-anchor="middle" fill="#000" font-weight="normal">(n=71)</text><text transform="translate(442.70,883.30) scale(1.04,1)" font-size="10.5" text-anchor="middle" fill="#000" font-weight="normal">2021 108 donors</text><text transform="translate(442.70,895.60) scale(1.04,1)" font-size="10.5" text-anchor="middle" fill="#000" font-weight="normal">(n=37)</text><text transform="translate(269.20,913.80) scale(0.76,1)" font-size="12" text-anchor="middle" fill="#000" font-weight="normal" stroke="#000" stroke-width="0.25">Pre-δ/pre-o CCP</text><path d="M328.50,693.80 V689.20 H445.40 V693.80" fill="none" stroke="#000" stroke-width="1.4"/><polygon points="384.40,679.60 385.10,680.93 386.59,681.19 385.54,682.27 385.75,683.76 384.40,683.10 383.05,683.76 383.26,682.27 382.21,681.19 383.70,680.93" fill="#000"/><polygon points="389.60,679.60 390.30,680.93 391.79,681.19 390.74,682.27 390.95,683.76 389.60,683.10 388.25,683.76 388.46,682.27 387.41,681.19 388.90,680.93" fill="#000"/><line x1="93.90" y1="780.50" x2="106.40" y2="780.50" stroke="#000" stroke-width="1.3" /><line x1="203.10" y1="775.50" x2="215.60" y2="775.50" stroke="#000" stroke-width="1.3" /><line x1="319.90" y1="791.30" x2="332.00" y2="791.30" stroke="#000" stroke-width="1.3" /><line x1="436.70" y1="766.30" x2="448.90" y2="766.30" stroke="#000" stroke-width="1.3" />
</svg></body></html>
